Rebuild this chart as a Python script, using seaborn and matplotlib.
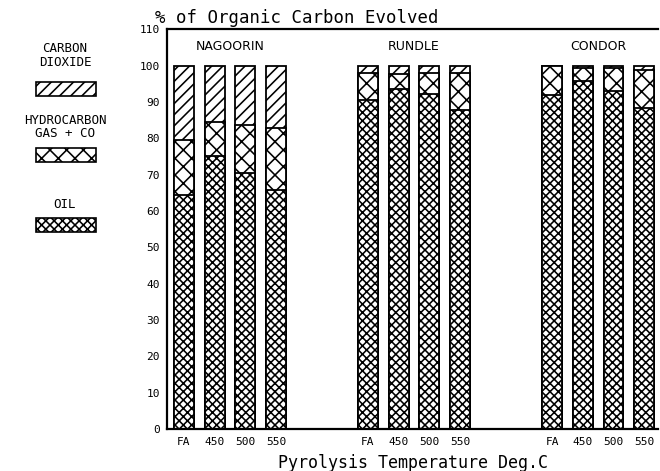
import numpy as np
import pandas as pd
import matplotlib
matplotlib.use("Agg")
import matplotlib.pyplot as plt
import seaborn as sns
from matplotlib.patches import Rectangle

# values (% of organic carbon evolved)
shales = ["NAGOORIN", "RUNDLE", "CONDOR"]
conditions = ["FA", "450", "500", "550"]
oil = [64.3, 75.0, 70.4, 65.8,
       90.6, 93.6, 92.2, 87.9,
       92.0, 95.7, 93.0, 88.4]
oil_plus_gas = [79.6, 84.4, 83.7, 82.8,
                98.0, 97.8, 98.0, 98.0,
                100.0, 99.3, 99.3, 98.9]
total = [100.0] * 12

sns.set_theme(style="white")
plt.rcParams["font.family"] = ["DejaVu Sans Mono", "DejaVu Sans"]
plt.rcParams["hatch.linewidth"] = 1.15
for k in ["text.color", "axes.labelcolor", "xtick.color", "ytick.color"]:
    plt.rcParams[k] = "black"

pos = [g * 6 + i for g in range(3) for i in range(4)]
df = pd.DataFrame({"pos": pos, "oil": oil, "gas": oil_plus_gas, "total": total})

fig = plt.figure(figsize=(6.6, 4.71), dpi=100)
ax = fig.add_axes([0.253, 0.089, 0.744, 0.849])

layers = [("total", "///"), ("gas", "xx"), ("oil", "xxxx")]
for col, hatch in layers:
    n0 = len(ax.patches)
    sns.barplot(data=df, x="pos", y=col, native_scale=True, width=0.65,
                color="white", edgecolor="black", linewidth=1.3, ax=ax)
    for p in ax.patches[n0:]:
        p.set_hatch(hatch)
        p.set_facecolor("white")
        p.set_edgecolor("black")

ax.set_xlim(-0.55, 15.45)
ax.set_ylim(0, 110)
ax.set_yticks(range(0, 111, 10))
ax.set_yticklabels([str(v) for v in range(0, 111, 10)], fontsize=8)
ax.set_xticks(pos)
ax.set_xticklabels(conditions * 3, fontsize=8)
ax.tick_params(axis="y", direction="inout", length=6, width=1.2, color="black", pad=2)
ax.tick_params(axis="x", length=0, pad=6)
ax.set_xlabel("Pyrolysis Temperature Deg.C", fontsize=12, labelpad=5)
ax.set_ylabel("")

for s in ["left", "top", "bottom"]:
    ax.spines[s].set_color("black")
    ax.spines[s].set_linewidth(1.6)
ax.spines["right"].set_visible(False)

for g, name in enumerate(shales):
    ax.text(g * 6 + 1.5, 105.2, name, ha="center", va="center", fontsize=9,
            family="DejaVu Sans")

fig.text(155 / 660, 1 - 18 / 471, "% of Organic Carbon Evolved", fontsize=12.5,
         ha="left", va="center")

# legend on the left
legend = [(["CARBON", "DIOXIDE"], "///", 48, 89),
          (["HYDROCARBON", "GAS + CO"], "xx", 120, 155),
          (["OIL"], "xxxx", 205, 225)]
for lines, hatch, ytxt, ybox in legend:
    for k, t in enumerate(lines):
        fig.text(65 / 660, 1 - (ytxt + 14 * k) / 471, t, fontsize=9,
                 ha="center", va="center")
    fig.patches.append(Rectangle((36 / 660, 1 - (ybox + 7) / 471), 60 / 660, 14 / 471,
                                 transform=fig.transFigure, facecolor="white",
                                 edgecolor="black", hatch=hatch, linewidth=1.2))

fig.savefig("out.png", dpi=100)
